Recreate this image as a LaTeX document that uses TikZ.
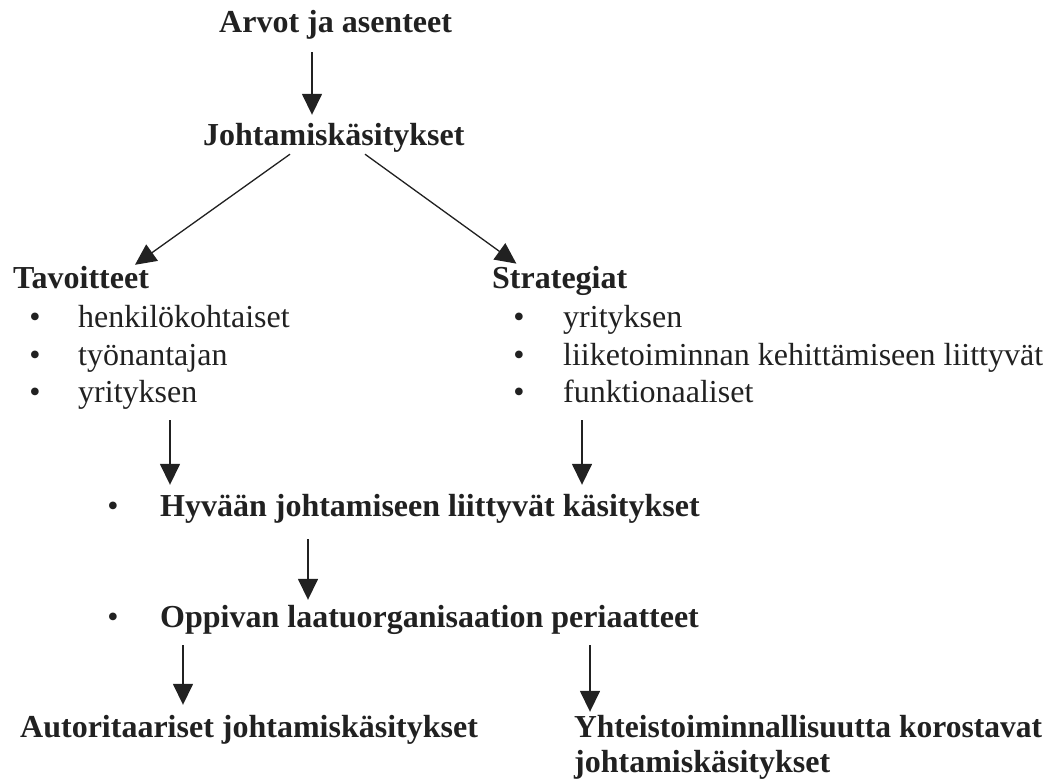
\documentclass[tikz,border=0pt]{standalone}
\usepackage{fontspec}
\setmainfont{Liberation Serif}
\usetikzlibrary{arrows.meta}
\definecolor{ink}{gray}{0.13}
\tikzset{
  item/.style={anchor=base west,inner sep=0pt,text height=23pt,text depth=8pt,
    text=ink,font=\fontsize{32}{38}\selectfont},
  head/.style={item,font=\fontsize{32}{38}\selectfont\bfseries},
  dot/.style={anchor=base,inner sep=0pt,text=ink,font=\fontsize{32}{38}\selectfont},
  arr/.style={-{Triangle[width=20pt,length=21pt]},line width=1.6pt,draw=ink,fill=ink}
}
\newcommand{\bul}[2]{\node[dot] (#1) at (#2) {•}}

\begin{document}
\begin{tikzpicture}[x=1pt,y=-1pt]
	\useasboundingbox (0,0) rectangle (1050,781);
		\node[head] (arvot) at (219,33) {Arvot ja asenteet};
		\node[head] (johtam) at (203,146) {Johtamiskäsitykset};
		\node[head] (tav) at (13,288) {Tavoitteet};
		\node[head] (strat) at (492,288) {Strategiat};
			\node[item] (t1) at (78,327) {henkilökohtaiset};
			\node[item] (t2) at (78,365) {työnantajan};
			\node[item] (t3) at (78,402) {yrityksen};
			\node[item] (s1) at (563,327) {yrityksen};
			\node[item] (s2) at (563,365) {liiketoiminnan kehittämiseen liittyvät};
			\node[item] (s3) at (563,402) {funktionaaliset};
				\bul{bt1}{35,327};
				\bul{bt2}{35,365};
				\bul{bt3}{35,402};
				\bul{bs1}{519,327};
				\bul{bs2}{519,365};
				\bul{bs3}{519,402};
		\node[head] (hyv) at (160,516) {Hyvään johtamiseen liittyvät käsitykset};
		\node[head] (opp) at (160,627) {Oppivan laatuorganisaation periaatteet};
				\bul{bh}{113,516};
				\bul{bo}{113,627};
		\node[head] (aut) at (20,737) {Autoritaariset johtamiskäsitykset};
		\node[head,xscale=0.985] (yht) at (574,737) {Yhteistoiminnallisuutta korostavat};
		\node[head] (yht2) at (574,772) {johtamiskäsitykset};
	% arrows
	\draw[arr,shorten <=11pt,shorten >=8pt] ([xshift=93pt]arvot.south west) -- ([xshift=109pt]johtam.north west);
	\draw[arr,line width=1.3pt] ([xshift=87pt]johtam.south west) -- ([xshift=122pt]tav.north west);
	\draw[arr,line width=1.3pt,shorten >=2pt] ([xshift=162pt]johtam.south west) -- ([xshift=26pt]strat.north west);
	\draw[arr,shorten <=10pt,shorten >=8pt] ([xshift=92pt]t3.south west) -- ([xshift=10pt]hyv.north west);
	\draw[arr,shorten <=10pt,shorten >=8pt] ([xshift=19pt]s3.south west) -- ([xshift=422pt]hyv.north west);
	\draw[arr,shorten <=15pt,shorten >=4pt] ([xshift=148pt]hyv.south west) -- ([xshift=148pt]opp.north west);
	\draw[arr,shorten <=10pt,shorten >=9pt] ([xshift=23pt]opp.south west) -- ([xshift=163pt]aut.north west);
	\draw[arr,shorten <=10pt,shorten >=2pt] ([xshift=430pt]opp.south west) -- ([xshift=16pt]yht.north west);
\end{tikzpicture}
\end{document}
